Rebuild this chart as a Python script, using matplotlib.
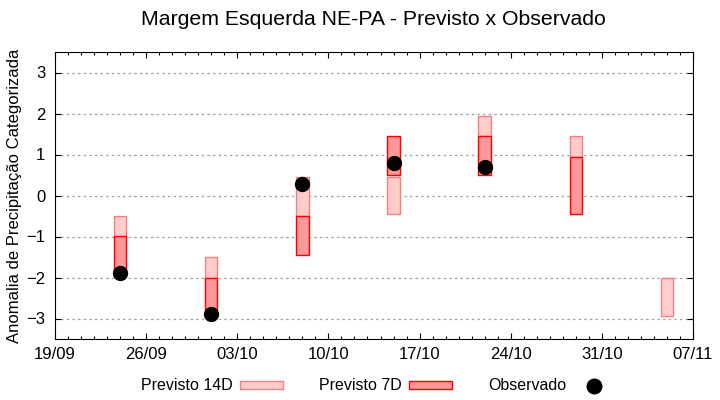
import matplotlib
matplotlib.use('Agg')
import matplotlib.pyplot as plt
import matplotlib.dates as mdates
from matplotlib.patches import Patch
from matplotlib.lines import Line2D
from datetime import datetime

plt.rcParams['font.family'] = ['Liberation Sans', 'DejaVu Sans']

# datas das previsoes (semanais)
datas = ['24/09', '01/10', '08/10', '15/10', '22/10', '29/10', '05/11']
# previsto 14 dias (limite inferior / superior)
p14_lo = [-1.0, -2.0, -0.5, -0.45, 1.45, 0.95, -2.95]
p14_hi = [-0.5, -1.5, 0.45, 0.45, 1.95, 1.45, -2.0]
# previsto 7 dias
p7_datas = ['24/09', '01/10', '08/10', '15/10', '22/10', '29/10']
p7_lo = [-1.9, -2.9, -1.45, 0.5, 0.5, -0.45]
p7_hi = [-1.0, -2.0, -0.5, 1.45, 1.45, 0.95]
# observado
obs_datas = ['24/09', '01/10', '08/10', '15/10', '22/10']
obs = [-1.9, -2.9, 0.27, 0.8, 0.7]

xticks = ['19/09', '26/09', '03/10', '10/10', '17/10', '24/10', '31/10', '07/11']


def to_date(s):
    d, m = s.split('/')
    return datetime(2023, int(m), int(d))


fig = plt.figure(figsize=(7.2, 4), dpi=100)
ax = fig.add_axes([55/720, 1 - 339/400, (693 - 55)/720, (339 - 52)/400])

x14 = [to_date(s) for s in datas]
x7 = [to_date(s) for s in p7_datas]
xo = [to_date(s) for s in obs_datas]

ax.bar(x14, [h - l for l, h in zip(p14_lo, p14_hi)], bottom=p14_lo, width=0.95,
       color='#ffcccc', edgecolor='#f08080', linewidth=1.0, zorder=3)
ax.bar(x7, [h - l for l, h in zip(p7_lo, p7_hi)], bottom=p7_lo, width=0.95,
       color='#ff9999', edgecolor='#ff0000', linewidth=1.0, zorder=4)
ax.scatter(xo, obs, s=100, color='black', zorder=5)

ax.set_xlim(to_date('19/09'), to_date('07/11'))
ax.set_ylim(-3.5, 3.5)
ax.set_xticks([to_date(s) for s in xticks])
ax.set_xticklabels(xticks)
ax.xaxis.set_minor_locator(mdates.DayLocator())
ax.set_yticks([-3, -2, -1, 0, 1, 2, 3])

ax.grid(axis='y', color='#a0a0a0', linestyle=(0, (2, 2.5)), linewidth=0.9, zorder=0)
ax.tick_params(axis='both', which='major', direction='in', length=4, width=0.8,
               labelsize=12, top=True, right=True, pad=6)
ax.tick_params(axis='y', which='major', pad=7)
ax.tick_params(axis='x', which='minor', direction='in', length=2.5, width=0.8, top=True)
for sp in ax.spines.values():
    sp.set_linewidth(0.8)

ax.set_ylabel('Anomalia de Precipitação Categorizada', fontsize=12)
ax.yaxis.set_label_coords(-0.051, 0.5)
fig.suptitle('Margem Esquerda NE-PA - Previsto x Observado', fontsize=15.3,
             x=0.518, y=0.975)

handles = [Patch(facecolor='#ffcccc', edgecolor='#f08080', linewidth=1.0),
           Patch(facecolor='#ff9999', edgecolor='#ff0000', linewidth=1.0),
           Line2D([], [], marker='o', color='black', linestyle='none', markersize=10.5)]
fig.legend(handles, ['Previsto 14D', 'Previsto 7D', 'Observado'],
           loc='center', bbox_to_anchor=(0.526, 0.035), ncol=3, frameon=False,
           markerfirst=False, fontsize=11.5, handlelength=2.7, handleheight=0.4,
           handletextpad=0.4, columnspacing=2.3)

fig.savefig('out.png', dpi=100)
